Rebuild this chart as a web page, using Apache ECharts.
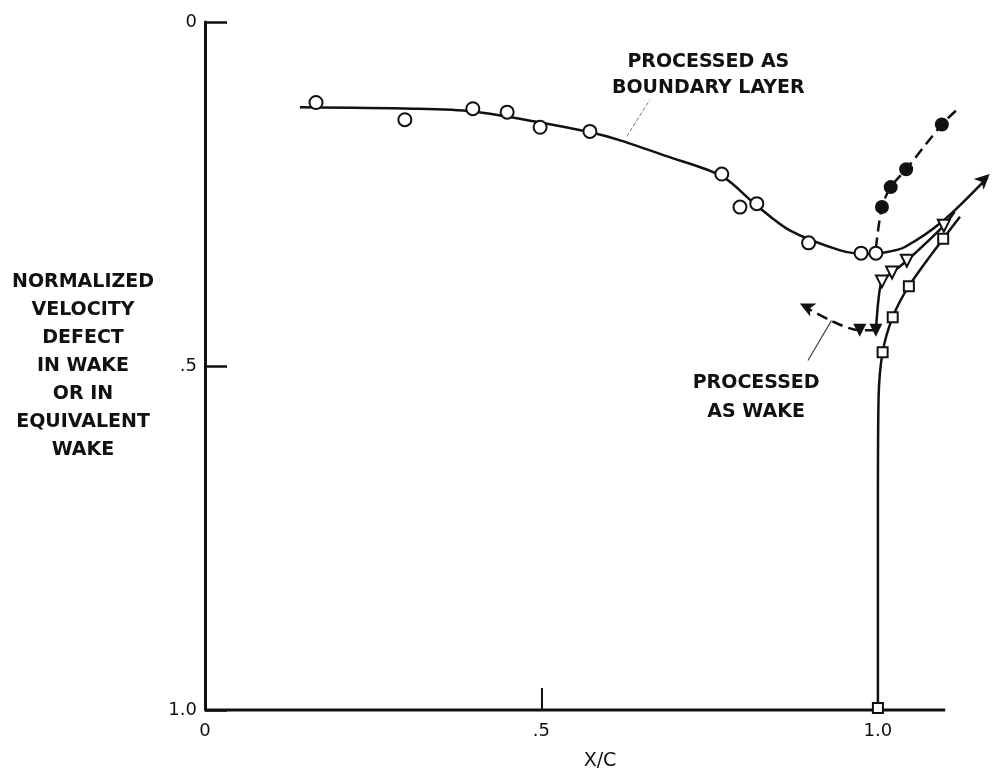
<!DOCTYPE html>
<html>
<head>
<meta charset="utf-8">
<script src="https://cdn.jsdelivr.net/npm/echarts@6/dist/echarts.min.js"></script>
<style>
html, body { margin: 0; padding: 0; background: #fff; }
#chart { width: 995px; height: 776px; }
</style>
</head>
<body>
<div id="chart"></div>
<script>
// x/c vs normalized velocity defect (y axis runs downward)
const xTicks = [0, 0.5, 1.0];
const yTicks = [0, 0.5, 1.0];
const tickText = {0: '0', 0.5: '.5', 1: '1.0'};
const xAxisEnd = 1.1; // drawn x axis stops here, curves run past it

// open circles: processed as boundary layer
const blPoints = [
    [0.165, 0.117], [0.297, 0.142], [0.398, 0.126], [0.449, 0.131],
    [0.498, 0.153], [0.572, 0.159], [0.768, 0.221], [0.795, 0.269],
    [0.820, 0.264], [0.897, 0.321], [0.975, 0.336], [0.997, 0.336]
];
// faired curve through the open circles
const blCurve = [
    [0.141, 0.124], [0.309, 0.126], [0.398, 0.130], [0.498, 0.146],
    [0.571, 0.160], [0.617, 0.172], [0.686, 0.195], [0.768, 0.224],
    [0.820, 0.267], [0.869, 0.303], [0.944, 0.332], [0.981, 0.337],
    [1.010, 0.335], [1.040, 0.327], [1.097, 0.289], [1.163, 0.226]
];
// filled circles, dashed
const fcPoints = [[1.006, 0.269], [1.019, 0.240], [1.042, 0.214], [1.095, 0.149]];
const fcCurve = [[0.997, 0.329], [1.006, 0.269], [1.019, 0.240], [1.042, 0.214], [1.095, 0.149], [1.117, 0.128]];
// filled triangles, dashed, processed as wake
const ftPoints = [[0.973, 0.448], [0.997, 0.448]];
const ftCurve = [[0.997, 0.448], [0.973, 0.448], [0.930, 0.434], [0.890, 0.413]];
// open triangles
const otPoints = [[1.006, 0.377], [1.021, 0.364], [1.043, 0.347], [1.098, 0.296]];
const otCurve = [[0.997, 0.448], [1.001, 0.402], [1.006, 0.377], [1.021, 0.364], [1.043, 0.347], [1.098, 0.296], [1.114, 0.276]];
// open squares
const sqPoints = [[1.0, 0.997], [1.007, 0.480], [1.022, 0.429], [1.046, 0.384], [1.097, 0.315]];
const sqCurve = [[1.0, 1.0], [1.0, 0.70], [1.001, 0.546], [1.007, 0.480], [1.022, 0.429], [1.046, 0.384], [1.097, 0.315], [1.122, 0.283]];
// arrow heads at curve ends
const arrowHeads = [
    {value: [1.166, 0.221], rot: -47},
    {value: [0.884, 0.409], rot: 64}
];

const yTitle = ['NORMALIZED', 'VELOCITY', 'DEFECT', 'IN WAKE', 'OR IN', 'EQUIVALENT', 'WAKE'];

const ink = '#111';
const font = 'DejaVu Sans';

let chart = echarts.init(document.getElementById('chart'));

function lineSeries(data, dashed, width) {
    return {
        type: 'line',
        data: data,
        smooth: 0.3,
        showSymbol: false,
        clip: false,
        silent: true,
        lineStyle: {color: ink, width: width || 2.5, type: dashed ? [11, 6] : 'solid'},
        z: 2
    };
}
function markSeries(data, symbol, size, filled, rot) {
    return {
        type: 'scatter',
        data: data,
        symbol: symbol,
        symbolSize: size,
        symbolRotate: rot || 0,
        clip: false,
        itemStyle: {color: filled ? ink : '#fff', borderColor: ink, borderWidth: filled ? 0 : 2, opacity: 1},
        z: 5
    };
}

let xLine = lineSeries([[0, 1], [xAxisEnd, 1]], false, 3);
xLine.smooth = false;

let option = {
    animation: false,
    backgroundColor: '#fff',
    grid: {left: 205, top: 22, bottom: 62, right: 0},
    xAxis: {
        type: 'value',
        min: 0,
        max: 1.174,
        interval: 0.5,
        name: 'X/C',
        nameLocation: 'middle',
        nameGap: 42,
        nameTextStyle: {fontFamily: font, fontSize: 19, color: ink},
        axisLine: {show: false, onZero: false},
        axisTick: {show: true, inside: true, length: 22, customValues: xTicks, lineStyle: {color: ink, width: 2}},
        axisLabel: {
            customValues: xTicks,
            margin: 12,
            fontFamily: font, fontSize: 18, color: ink,
            formatter: function(v) { return tickText[v]; }
        },
        splitLine: {show: false}
    },
    yAxis: {
        type: 'value',
        inverse: true,
        min: 0,
        max: 1,
        interval: 0.5,
        axisLine: {onZero: false, lineStyle: {color: ink, width: 3}},
        axisTick: {inside: true, length: 22, customValues: yTicks, lineStyle: {color: ink, width: 2.5}},
        axisLabel: {
            customValues: yTicks,
            margin: 8,
            fontFamily: font, fontSize: 18, color: ink,
            formatter: function(v) { return tickText[v]; }
        },
        splitLine: {show: false}
    },
    series: [
        xLine,
        lineSeries(blCurve, false),
        lineSeries(fcCurve, true),
        lineSeries(ftCurve, true),
        lineSeries(otCurve, false),
        lineSeries(sqCurve, false),
        markSeries(blPoints, 'circle', 13, false),
        markSeries(fcPoints, 'circle', 14, true),
        markSeries(ftPoints, 'triangle', 13, true, 180),
        markSeries(otPoints, 'triangle', 12, false, 180),
        markSeries(sqPoints, 'rect', 10, false),
        {
            type: 'scatter',
            clip: false,
            symbol: 'arrow',
            symbolSize: [11, 15],
            data: arrowHeads.map(function(a) {
                return {value: a.value, symbolRotate: a.rot};
            }),
            itemStyle: {color: ink, opacity: 1},
            z: 6
        }
    ]
};
chart.setOption(option);

// annotations placed in data space
function px(p) { return chart.convertToPixel({gridIndex: 0}, p); }
let bA = px([0.627, 0.166]), bB = px([0.661, 0.113]);
let wA = px([0.931, 0.434]), wB = px([0.896, 0.492]);
let blLabel = px([0.748, 0.039]);
let wkLabel = px([0.819, 0.504]);

let graphics = [
    {type: 'line', shape: {x1: bA[0], y1: bA[1], x2: bB[0], y2: bB[1]}, style: {stroke: '#777', lineWidth: 1, lineDash: [4, 2]}},
    {type: 'line', shape: {x1: wA[0], y1: wA[1], x2: wB[0], y2: wB[1]}, style: {stroke: '#444', lineWidth: 1.2}},
    {type: 'text', x: blLabel[0], y: blLabel[1], style: {text: 'PROCESSED AS\nBOUNDARY LAYER', fontFamily: font, fontSize: 19, fontWeight: 'bold', lineHeight: 26, fill: ink, align: 'center', verticalAlign: 'top'}},
    {type: 'text', x: wkLabel[0], y: wkLabel[1], style: {text: 'PROCESSED\nAS WAKE', fontFamily: font, fontSize: 19, fontWeight: 'bold', lineHeight: 29, fill: ink, align: 'center', verticalAlign: 'top'}},
    {type: 'text', x: 83, y: 268, style: {text: yTitle.join('\n'), fontFamily: font, fontSize: 19, fontWeight: 'bold', lineHeight: 28, fill: ink, align: 'center', verticalAlign: 'top'}}
];
chart.setOption({graphic: graphics});
</script>
</body>
</html>
